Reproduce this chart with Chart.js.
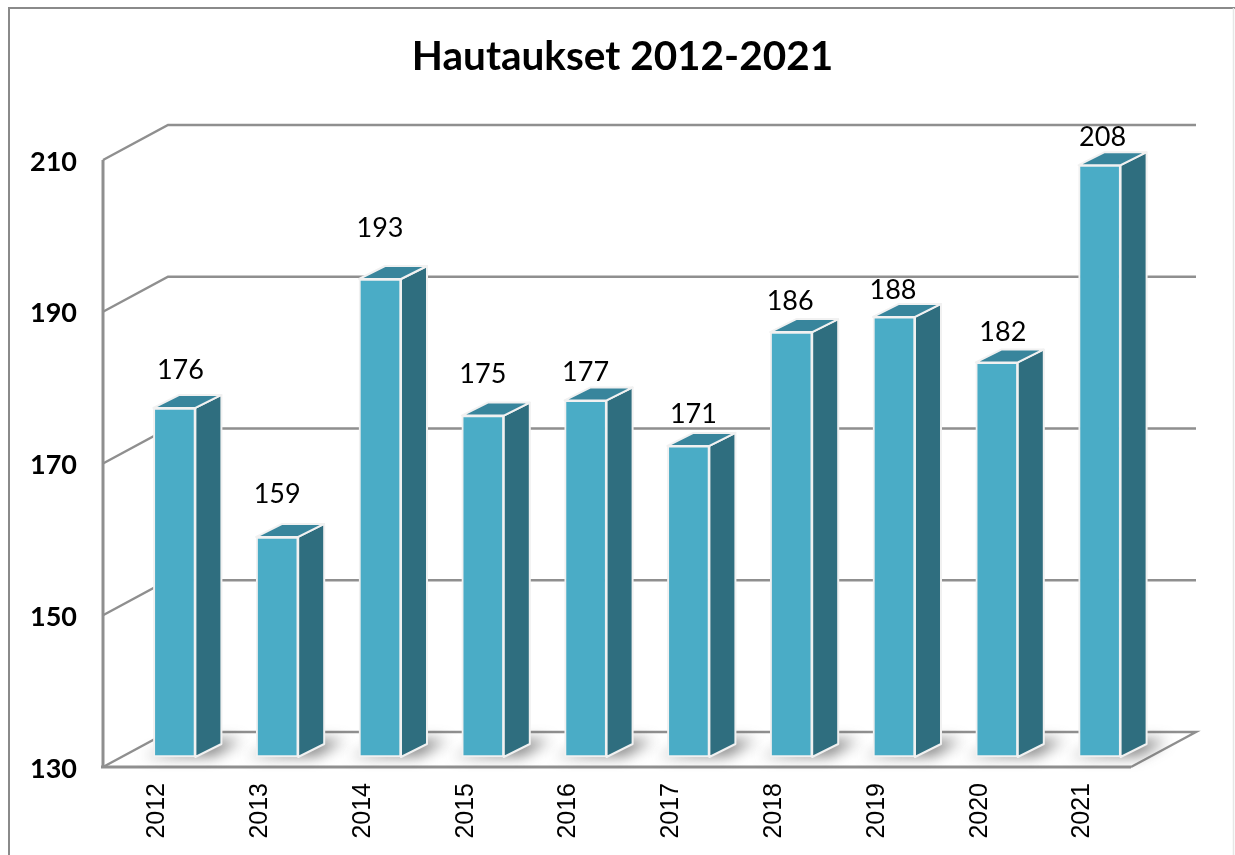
<!DOCTYPE html>
<html><head><meta charset="utf-8">
<style>html,body{margin:0;padding:0;background:#fff;overflow:hidden}canvas{display:block}#w{width:1235px;height:855px;position:relative}</style>
<script src="https://cdn.jsdelivr.net/npm/chart.js@4"></script>
</head><body><div id="w"><canvas id="c" width="1235" height="855"></canvas></div>
<script>
const categories=['2012','2013','2014','2015','2016','2017','2018','2019','2020','2021'];
const burials=[176,159,193,175,177,171,186,188,182,208];
const yTicks=[130,150,170,190,210];
const labelShiftX=[6,0,0,0,0,5,-1,-1,6,3];
const labelGap=[38,43,51,41,28,32,31,27,30,28];
const depthX=26,depthY=13;      // bar depth
const wallX=65,wallY=35;        // chart floor depth
const planeX=20,planeY=10;      // bar plane inset from the front edge
const gray='#8f8f8f';
function line(ctx,pts,w,c){ctx.beginPath();pts.forEach((p,i)=>i?ctx.lineTo(p[0],p[1]):ctx.moveTo(p[0],p[1]));ctx.lineWidth=w;ctx.strokeStyle=c;ctx.stroke();}
function poly(ctx,pts,fill,stroke,w){ctx.beginPath();pts.forEach((p,i)=>i?ctx.lineTo(p[0],p[1]):ctx.moveTo(p[0],p[1]));ctx.closePath();ctx.fillStyle=fill;ctx.fill();if(stroke){ctx.lineWidth=w;ctx.strokeStyle=stroke;ctx.lineJoin='round';ctx.stroke();}}
const threeD={id:'threeD',
 beforeDatasetsDraw(chart){
  const {ctx,chartArea:a,scales:{y}}=chart;
  const fl=103,fr=a.right-planeX;
  ctx.save();
  // frame
  line(ctx,[[9,855],[9,8],[1235,8]],2,'#8a8a8a');
  line(ctx,[[1233.5,8],[1233.5,855]],1.5,'#e6e6e6');
  // wall gridlines
  yTicks.forEach(v=>{
    const py=y.getPixelForValue(v)+planeY;
    if(v===yTicks[0]) return;
    line(ctx,[[fl,py],[fl+wallX,py-wallY],[fr+wallX,py-wallY]],2.4,gray);
  });
  // left edge and floor
  const top=y.getPixelForValue(yTicks[yTicks.length-1])+planeY,bot=y.getPixelForValue(yTicks[0])+planeY;
  line(ctx,[[fl,top],[fl,bot]],3,gray);
  line(ctx,[[fl,bot],[fl+wallX,bot-wallY],[fr+wallX,bot-wallY],[fr,bot]],2.4,gray);
  line(ctx,[[fl-2,bot],[fr,bot]],3,gray);
  // bars: floor shadow, side and top
  const els=chart.getDatasetMeta(0).data;
  const base=a.bottom;
  ctx.save();
  ctx.filter='blur(7px)';
  els.forEach(b=>{
    const l=b.x-b.width/2,r=b.x+b.width/2;
    poly(ctx,[[l-10,base-1],[r+18,base-1],[r+46,base-17],[r+16,base-17]],'rgba(70,70,70,0.7)');
  });
  ctx.restore();
  els.forEach(b=>{
    const l=b.x-b.width/2,r=b.x+b.width/2,t=b.y;
    poly(ctx,[[r,t],[r+depthX,t-depthY],[r+depthX,base-depthY],[r,base]],'#2f6e7f','#f1f1f1',2);
    poly(ctx,[[l,t],[l+depthX,t-depthY],[r+depthX,t-depthY],[r,t]],'#38859c','#f1f1f1',2);
  });
  ctx.restore();
 },
 afterDatasetsDraw(chart){
  const {ctx}=chart;
  ctx.save();
  ctx.font='27px Lato';ctx.fillStyle='#000';ctx.textAlign='center';ctx.textBaseline='middle';
  chart.getDatasetMeta(0).data.forEach((b,i)=>{
    ctx.fillText(String(burials[i]),b.x+labelShiftX[i],b.y-labelGap[i]);
  });
  ctx.restore();
 }
};
new Chart(document.getElementById('c'),{
 type:'bar',
 data:{labels:categories,datasets:[{data:burials,base:130,clip:4,backgroundColor:'#4aacc6',borderColor:'#f1f1f1',borderWidth:2,barThickness:42,borderSkipped:false}]},
 plugins:[threeD],
 options:{
  responsive:false,animation:false,
  layout:{padding:{left:10,right:0,top:0,bottom:0}},
  plugins:{
   legend:{display:false},tooltip:{enabled:false},
   title:{display:true,text:'Hautaukset 2012-2021',color:'#000',font:{family:'Lato',size:40.5,weight:'bold',lineHeight:1.2},padding:{top:33,bottom:68.4}}
  },
  scales:{
   x:{grid:{display:false},border:{display:false},
      afterFit(s){s.height=98;},
      ticks:{minRotation:90,maxRotation:90,autoSkip:false,labelOffset:-17,padding:18,color:'#000',font:{family:'Liberation Sans',size:25}}},
   y:{min:130,max:210,grid:{display:false},border:{display:false},
      afterFit(s){s.width=113;},
      afterBuildTicks(s){s.ticks=yTicks.map(v=>({value:v}));},
      ticks:{padding:38,labelOffset:12,color:'#000',font:{family:'Lato',size:27,weight:'bold'}}},
   spacer:{position:'right',min:130,max:210,grid:{display:false},border:{display:false},ticks:{display:false},
      afterFit(s){s.width=84;}}
  }
 }
});
</script></body></html>
